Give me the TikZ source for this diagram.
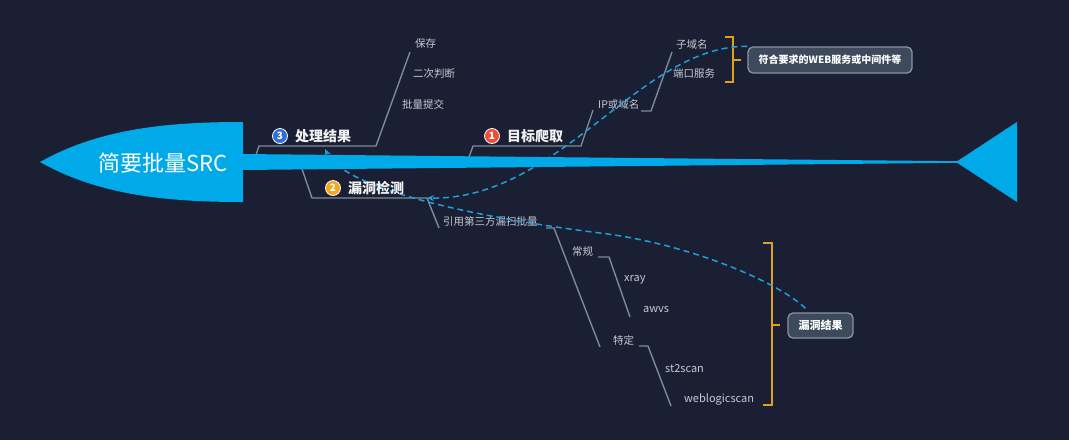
\documentclass[tikz,border=0pt]{standalone}
\usepackage{fontspec}
\setmainfont{Noto Sans CJK SC}
\usetikzlibrary{arrows.meta}
\definecolor{bg}{HTML}{1B1F34}
\definecolor{spine}{HTML}{00AAE8}
\definecolor{branch}{HTML}{7D8A97}
\definecolor{childtxt}{HTML}{C5C9D1}
\definecolor{dashc}{HTML}{1E9FD8}
\definecolor{brk}{HTML}{E0A11F}
\definecolor{boxfill}{HTML}{3D4A5C}
\definecolor{boxdraw}{HTML}{8595A5}
\definecolor{bred}{HTML}{E8503A}
\definecolor{byel}{HTML}{F5A623}
\definecolor{bblue}{HTML}{2F6FDC}
\begin{document}
\begin{tikzpicture}[x=1pt,y=-1pt,
  child/.style={font=\fontsize{10.5}{12}\selectfont, text=childtxt, inner sep=0pt, anchor=west},
  latinchild/.style={child, font=\fontsize{11}{13}\selectfont},
  topic/.style={font=\bfseries\fontsize{14}{16}\selectfont, text=white!90!gray, inner sep=0pt, anchor=west},
  badge/.style={circle, inner sep=0pt, minimum size=15pt, draw=white!75, line width=0.8pt, text=white, font=\bfseries\fontsize{10}{10}\selectfont},
  bline/.style={draw=branch, line width=1.4pt},
  dline/.style={draw=dashc, line width=1.5pt, dash pattern=on 6pt off 4pt, -{Stealth[length=7pt,width=6pt]}},
  bracket/.style={draw=brk, line width=2pt},
  sumbox/.style={rounded corners=5pt, fill=boxfill, draw=boxdraw, line width=1.3pt, text=white, font=\bfseries\fontsize{10}{12}\selectfont, inner sep=0pt}
]
\fill[bg] (0,0) rectangle (1069,440);
\useasboundingbox (0,0) rectangle (1069,440);

% ---------- text nodes ----------
\node[child] (baocun) at (415,44) {保存};
\node[child] (erci) at (413,74) {二次判断};
\node[child] (piliang) at (402,104) {批量提交};
\node[child] (ip) at (598,104) {IP或域名};
\node[child] (ziyu) at (676,44) {子域名};
\node[child] (duankou) at (673,74) {端口服务};
\node[child] (yinyong) at (443,221) {引用第三方漏扫批量};
\node[child] (changgui) at (572,251) {常规};
\node[latinchild] (xray) at (624,280) {xray};
\node[latinchild] (awvs) at (643,310) {awvs};
\node[child] (teding) at (613,340) {特定};
\node[latinchild] (st2) at (665,369) {st2scan};
\node[latinchild] (weblogic) at (684,399) {weblogicscan};

\node[sumbox, minimum width=164pt, minimum height=26pt] (webbox) at (830,60) {符合要求的WEB服务或中间件等};
\node[sumbox, minimum width=65pt, minimum height=25pt, font=\bfseries\fontsize{11}{12}\selectfont] (vbox) at (820.5,325.5) {漏洞结果};

% ---------- branch coordinates ----------
\coordinate (p3a) at (256,155); \coordinate (p3b) at (259,146); \coordinate (p3c) at (376,146); \coordinate (p3d) at (410,52);
\coordinate (p1a) at (469,157); \coordinate (p1b) at (473,146); \coordinate (p1c) at (581,146); \coordinate (p1d) at (593,110);
\coordinate (ipa) at (641,111); \coordinate (ipb) at (651,111); \coordinate (ipc) at (672,52);
\coordinate (p2a) at (302,169); \coordinate (p2b) at (312,198); \coordinate (p2c) at (427,198); \coordinate (p2d) at (439,228);
\coordinate (yya) at (546,228); \coordinate (yyb) at (554,228); \coordinate (yyc) at (600,347);
\coordinate (cga) at (598,257); \coordinate (cgb) at (609,257); \coordinate (cgc) at (630,317);
\coordinate (tda) at (639,346); \coordinate (tdb) at (648,346); \coordinate (tdc) at (671,406);
\coordinate (arr3) at (325,149);

% ---------- branch lines ----------
\draw[bline] (p3a) -- (p3b) -- (p3c) -- (p3d);
\draw[bline] (p1a) -- (p1b) -- (p1c) -- (p1d);
\draw[bline] (ipa) -- (ipb) -- (ipc);
\draw[bline] (p2a) -- (p2b) -- (p2c) -- (p2d);
\draw[bline] (yya) -- (yyb) -- (yyc);
\draw[bline] (cga) -- (cgb) -- (cgc);
\draw[bline] (tda) -- (tdb) -- (tdc);

% ---------- brackets ----------
\draw[bracket] (725,37) -- (733,37) -- (733,82) -- (725,82);
\draw[bracket] (733,59.5) -- (741,59.5);
\draw[bracket] (763,243) -- (772,243) -- (772,405) -- (763,405);
\draw[bracket] (772,325) -- (780,325);

% ---------- dashed relations ----------
\draw[dline] (webbox.north west) .. controls (640,45) and (560,200) .. (p2c);
\draw[dline] ([xshift=-15pt,yshift=4pt]vbox.north) .. controls (778,282) and (690,244) .. (600,233) .. controls (480,218) and (345,190) .. (arr3);

% ---------- fish ----------
\fill[spine] (242,154) -- (957,161.2) -- (957,162.8) -- (242,170) -- cycle;
\fill[spine] (40,162) .. controls (100,128) and (170,122) .. (243,122) -- (243,202) .. controls (170,202) and (100,196) .. (40,162) -- cycle;
\fill[spine] (956,162) -- (1017,122) -- (1017,202) -- cycle;
\node[font=\fontsize{22}{24}\selectfont, text=white, inner sep=0pt] (title) at (163,163) {简要批量SRC};

% ---------- topics ----------
\node[badge, fill=bblue] (b3) at (280,136) {3};
\node[topic] (t3) at (295,136) {处理结果};
\node[badge, fill=byel] (b2) at (333,188) {2};
\node[topic] (t2) at (348,188) {漏洞检测};
\node[badge, fill=bred] (b1) at (492,136) {1};
\node[topic] (t1) at (507,136) {目标爬取};
\end{tikzpicture}
\end{document}
